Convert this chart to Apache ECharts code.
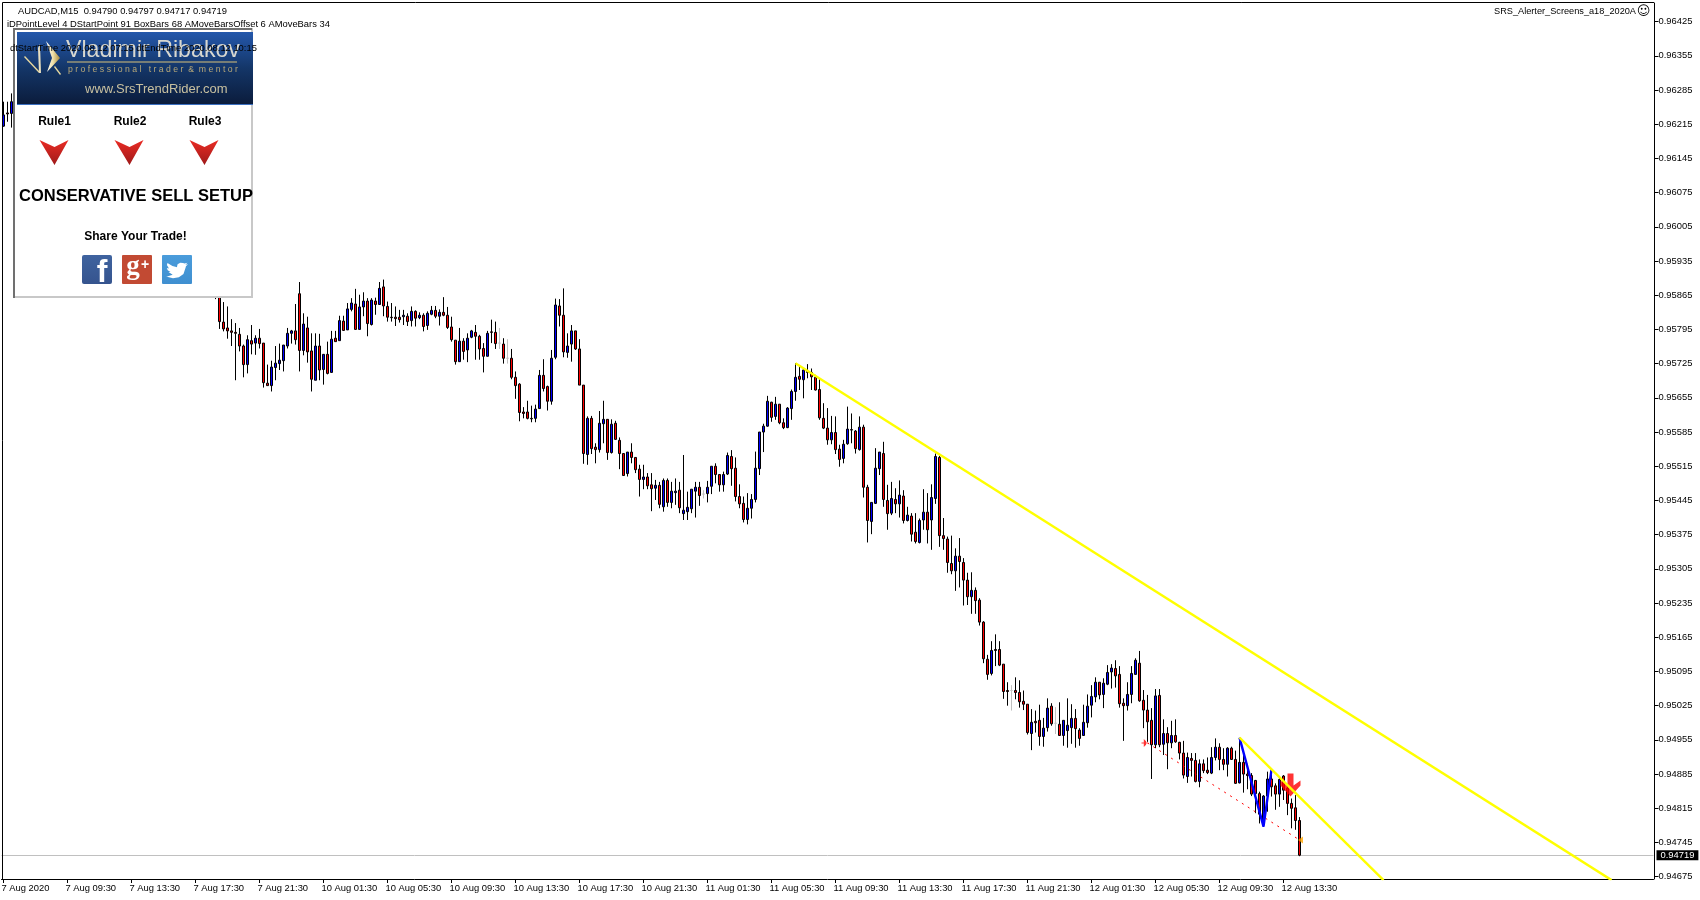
<!DOCTYPE html>
<html><head><meta charset="utf-8"><style>html,body{margin:0;padding:0;background:#fff}#c{width:1700px;height:900px}</style>
<script src="https://cdn.jsdelivr.net/npm/echarts@6/dist/echarts.min.js"></script></head><body><div id="c"></div>
<script>
// Prices in points (1 point = 0.00001). Bars 3..52 sit behind the panel and cannot be read.
const opens=[96211,96238,96237,95890,
95876,95810,95798,95792,95789,95785,95761,95723,95772,95767,
95777,95767,95685,95680,95717,95725,95731,95761,95787,95792,
95868,95752,95798,95751,95691,95761,95713,95744,95707,95777,
95772,95812,95794,95836,95847,95795,95841,95853,95805,95853,
95846,95882,95842,95820,95820,95820,95821,95822,95813,95832,
95819,95824,95803,95826,95834,95822,95830,95824,95800,95773,
95729,95771,95753,95779,95789,95781,95756,95740,95790,95789,
95767,95765,95736,95736,95697,95683,95626,95626,95613,95613,
95633,95701,95678,95648,95738,95843,95824,95748,95765,95792,
95755,95681,95539,95613,95554,95549,95602,95611,95543,95603,
95568,95541,95500,95544,95533,95509,95488,95493,95477,95470,
95476,95432,95486,95441,95461,95466,95418,95422,95428,95464,
95472,95458,95459,95474,95515,95498,95477,95499,95535,95511,
95453,95439,95406,95429,95447,95510,95585,95597,95646,95617,
95642,95604,95594,95633,95668,95699,95692,95709,95707,95697,
95672,95613,95593,95569,95584,95550,95531,95561,95590,95587,
95549,95595,95472,95402,95439,95510,95541,95445,95419,95447,
95438,95454,95404,95413,95380,95359,95405,95421,95405,95449,
95533,95373,95366,95316,95301,95331,95318,95282,95248,95261,
95241,95196,95120,95091,95140,95140,95110,95056,95056,95056,
95052,95034,95028,94968,94993,94995,94962,94980,95024,94989,
94987,94964,94974,94980,94999,94975,94964,94990,95026,95043,
95073,95048,95069,95094,95101,95089,95030,95025,95048,95089,
95112,95036,95016,94995,94945,95046,94946,94968,94949,94964,
94950,94928,94880,94917,94913,94870,94906,94893,94887,94919,
94940,94915,94905,94938,94915,94867,94909,94885,94882,94872,
94845,94786,94840,94875,94861,94844,94881,94856,94825,94816,
94790];
const closes=[96234,96236,96261,95880,
95811,95796,95792,95789,95787,95761,95723,95774,95765,95777,
95766,95686,95680,95718,95726,95732,95763,95787,95792,95774,
95752,95806,95749,95693,95761,95712,95744,95705,95775,95770,
95813,95793,95837,95849,95795,95841,95853,95807,95855,95846,
95879,95843,95820,95819,95817,95815,95824,95811,95832,95818,
95824,95801,95828,95834,95822,95830,95824,95799,95774,95729,
95771,95750,95777,95792,95781,95755,95740,95787,95789,95766,
95767,95736,95736,95697,95680,95625,95623,95613,95612,95632,
95701,95674,95648,95736,95845,95824,95749,95761,95792,95755,
95681,95541,95613,95551,95549,95603,95611,95543,95601,95570,
95541,95496,95544,95533,95508,95488,95493,95475,95469,95476,
95437,95486,95441,95464,95464,95430,95425,95431,95468,95472,
95455,95458,95472,95515,95498,95477,95498,95537,95510,95453,
95438,95406,95429,95447,95511,95585,95597,95648,95615,95642,
95604,95594,95634,95668,95697,95693,95712,95707,95698,95671,
95614,95593,95569,95584,95549,95529,95560,95591,95589,95551,
95595,95472,95404,95441,95511,95544,95447,95418,95449,95438,
95456,95404,95415,95376,95361,95404,95421,95385,95451,95535,
95373,95367,95318,95301,95331,95320,95282,95248,95261,95240,
95196,95121,95089,95138,95138,95108,95054,95054,95056,95052,
95033,95028,94970,94991,94990,94962,94979,95020,94988,94989,
94964,94995,94985,94999,94978,94958,94991,95024,95044,95073,
95047,95071,95093,95102,95086,95029,95025,95048,95091,95118,
95035,95016,94992,94945,95045,94945,94968,94949,94964,94951,
94928,94883,94919,94913,94870,94906,94892,94888,94919,94940,
94915,94905,94938,94915,94866,94909,94885,94882,94844,94845,
94803,94840,94875,94859,94844,94874,94852,94825,94815,94790,
94719];
const highs=[96261,96261,96278,95900,
95883,95851,95842,95816,95808,95798,95764,95783,95804,95783,
95796,95767,95723,95731,95761,95766,95763,95798,95794,95847,
95892,95828,95821,95787,95787,95786,95744,95770,95792,95792,
95823,95823,95849,95859,95878,95866,95871,95859,95859,95860,
95892,95897,95852,95849,95842,95835,95835,95828,95842,95834,
95830,95828,95832,95843,95843,95836,95861,95841,95821,95773,
95798,95777,95787,95794,95804,95784,95767,95792,95815,95811,
95798,95777,95775,95755,95709,95685,95636,95649,95639,95641,
95712,95734,95680,95753,95858,95857,95879,95787,95804,95792,
95775,95681,95617,95618,95562,95628,95649,95611,95611,95608,
95574,95541,95544,95562,95533,95518,95518,95501,95501,95487,
95483,95490,95490,95483,95490,95483,95538,95463,95468,95483,
95483,95466,95485,95515,95521,95498,95504,95543,95548,95533,
95478,95453,95460,95458,95545,95585,95602,95659,95647,95657,
95642,95613,95636,95672,95726,95722,95715,95724,95715,95702,
95695,95644,95634,95618,95617,95559,95569,95637,95623,95589,
95617,95600,95477,95441,95552,95544,95565,95477,95483,95470,
95486,95466,95432,95419,95419,95408,95468,95460,95478,95541,
95536,95409,95371,95373,95347,95368,95327,95297,95298,95267,
95245,95198,95129,95157,95171,95157,95110,95073,95067,95083,
95077,95056,95028,95018,95015,95027,95000,95040,95030,95022,
95032,94995,95040,95028,95018,94979,95027,95048,95067,95083,
95073,95081,95108,95110,95118,95106,95040,95073,95106,95122,
95137,95057,95047,95020,95059,95059,94997,94981,94994,94997,
94951,94953,94929,94928,94928,94915,94915,94919,94940,94958,
94948,94938,94940,94941,94933,94958,94928,94906,94887,94873,
94849,94842,94890,94897,94866,94880,94883,94865,94835,94842,
94797];
const lows=[96210,96220,96208,95857,
95796,95791,95776,95761,95691,95750,95697,95705,95744,95743,
95756,95676,95680,95668,95691,95712,95709,95756,95766,95764,
95709,95742,95727,95668,95691,95691,95682,95703,95707,95770,
95772,95792,95794,95832,95795,95795,95822,95781,95803,95825,
95845,95822,95811,95811,95802,95809,95804,95802,95801,95801,
95816,95791,95794,95824,95818,95803,95822,95796,95770,95723,
95729,95733,95728,95777,95733,95733,95707,95740,95767,95755,
95755,95725,95725,95693,95653,95607,95613,95611,95605,95605,
95633,95668,95629,95641,95734,95801,95738,95737,95729,95753,
95681,95520,95518,95540,95521,95543,95562,95528,95541,95569,
95509,95496,95494,95521,95501,95453,95468,95468,95423,95446,
95429,95422,95432,95429,95436,95419,95405,95405,95419,95410,
95434,95449,95441,95458,95480,95463,95463,95497,95475,95443,
95429,95400,95396,95408,95441,95497,95544,95596,95606,95610,
95601,95591,95593,95610,95649,95671,95654,95695,95671,95670,
95610,95591,95559,95560,95540,95514,95521,95559,95562,95541,
95547,95451,95359,95376,95438,95497,95432,95385,95415,95419,
95410,95398,95402,95361,95357,95357,95385,95357,95344,95438,
95350,95344,95297,95294,95260,95267,95230,95231,95213,95213,
95189,95112,95078,95087,95106,95106,95039,95025,95015,95038,
95021,95016,94966,94934,94970,94943,94941,94972,94984,94967,
94964,94943,94939,94947,94939,94943,94964,94980,95001,95032,
95038,95020,95067,95060,95062,95021,94953,95015,95030,95089,
95033,94979,94951,94875,94938,94940,94924,94895,94938,94949,
94915,94876,94867,94880,94868,94858,94887,94885,94885,94913,
94893,94893,94880,94914,94865,94866,94847,94854,94840,94805,
94784,94777,94808,94839,94812,94818,94832,94801,94774,94771,
94717];
const hiddenBars=50;
const slotCount=413;
const barsPerLabel=16;
const xLabels=['7 Aug 2020','7 Aug 09:30','7 Aug 13:30','7 Aug 17:30','7 Aug 21:30','10 Aug 01:30','10 Aug 05:30','10 Aug 09:30','10 Aug 13:30','10 Aug 17:30','10 Aug 21:30','11 Aug 01:30','11 Aug 05:30','11 Aug 09:30','11 Aug 13:30','11 Aug 17:30','11 Aug 21:30','12 Aug 01:30','12 Aug 05:30','12 Aug 09:30','12 Aug 13:30'];
const yTicks=[0.96425,0.96355,0.96285,0.96215,0.96145,0.96075,0.96005,0.95935,0.95865,0.95795,0.95725,0.95655,0.95585,0.95515,0.95445,0.95375,0.95305,0.95235,0.95165,0.95095,0.95025,0.94955,0.94885,0.94815,0.94745,0.94675];
const lastPrice=0.94719;
const mainTrend=[[198,0.957258],[402,0.94668]];
const shortTrend=[[309,0.949595],[345,0.94668]];
const blueZigzag=[[309,0.949595],[315,0.947774],[317,0.948948]];
const redDashed=[[286,0.949487],[324,0.947502]];
const redStart=[[286,0.949487]];
const orangeEnd=[[324,0.947502]];
const sellArrow=[[322,0.948648]];

const bars=opens.map((o,i)=>[o/1e5,closes[i]/1e5,lows[i]/1e5,highs[i]/1e5]);
bars.splice(3,0,...Array(hiddenBars).fill('-'));
const cats=Array.from({length:slotCount},(_,i)=>i%barsPerLabel===0?(xLabels[i/barsPerLabel]||''):'');
const showTick=i=>i%barsPerLabel===0&&i/barsPerLabel<xLabels.length;

const F='"Liberation Sans"',A='"Liberation Sans"';
function txt(text,x,y,font,fill,align,extra){return {type:'text',z:110,silent:true,style:Object.assign({text,x,y,font,fill,textAlign:align||'left',textVerticalAlign:'middle'},extra||{})};}
function poly(points,fill,z){return {type:'polygon',z:z||105,silent:true,shape:{points},style:{fill}};}
function arrowRed(cx){return poly([[cx-15,140],[cx,147],[cx+14,140],[cx,165]],new echarts.graphic.LinearGradient(0,0,0,1,[{offset:0,color:'#EA2B24'},{offset:1,color:'#9E1A1A'}]));}
const gold=new echarts.graphic.LinearGradient(0,0,1,0,[{offset:0,color:'#FFFFFF'},{offset:.5,color:'#EFE0A8'},{offset:1,color:'#A88A3A'}]);
const birdOutline=[[24,4.6],[21.1,5.3],[23.3,2.6],[20.2,3.8],[18.5,3],[15.5,2.6],[12.6,4.5],[12,7.4],[12,8.1],[7,6.7],[1.6,3.2],[1,5.6],[3.2,9.7],[.9,9.1],[.9,9.2],[1.9,11.8],[4.9,14],[2.7,14.1],[7.3,17.5],[1.2,19.6],[0,19.5],[7.6,21.7],[14,20.5],[19,16.5],[21.6,7.7],[21.6,7.1]];

const graphic=[
 {type:'line',z:50,silent:true,shape:{x1:2.5,y1:2.5,x2:1654,y2:2.5},style:{stroke:'#000',lineWidth:1}},
 {type:'line',z:50,silent:true,shape:{x1:2.5,y1:2.5,x2:2.5,y2:879},style:{stroke:'#000',lineWidth:1}},
 txt('AUDCAD,M15  0.94790 0.94797 0.94717 0.94719',18,11,'9.4px '+F,'#000'),
 txt('iDPointLevel 4 DStartPoint 91 BoxBars 68 AMoveBarsOffset 6 AMoveBars 34',7,24,'9.4px '+F,'#000'),
 txt('SRS_Alerter_Screens_a18_2020A',1636,11.5,'9.2px '+F,'#000','right'),
 txt('\u263A',1643.5,11.5,'13px "DejaVu Sans"','#000','center'),
 // panel
 {type:'rect',z:100,silent:true,shape:{x:14,y:29,width:238,height:268},style:{fill:'#fff',stroke:'#C8C8C8',lineWidth:2}},
 {type:'line',z:101,silent:true,shape:{x1:14,y1:29,x2:252,y2:29},style:{stroke:'#707070',lineWidth:2}},
 {type:'line',z:101,silent:true,shape:{x1:14,y1:28,x2:14,y2:298},style:{stroke:'#707070',lineWidth:2}},
 {type:'rect',z:102,silent:true,shape:{x:17,y:32,width:236,height:72},style:{fill:new echarts.graphic.LinearGradient(0,0,0,1,[{offset:0,color:'#2458AC'},{offset:.5,color:'#143668'},{offset:1,color:'#0B1C3C'}])}},
 {type:'rect',z:102,silent:true,shape:{x:17,y:104,width:236,height:1},style:{fill:'#3A6FC0'}},
 poly([[24,57],[25,56],[40,72],[39,73]],'#E8D9A0'),
 poly([[38,48],[40,44],[41,73],[39,73]],'#E8DFC0'),
 poly([[46,41],[60,58],[47,72],[52,58]],gold),
 poly([[54,67],[55,66],[61,74],[60,75]],'#E8D9A0'),
 txt('Vladimir Ribakov',66,50.5,'23.2px '+A,'#D8D8D0'),
 {type:'rect',z:103,silent:true,shape:{x:67,y:61.5,width:170,height:1},style:{fill:'#D8C078'}},
 txt('p r o f e s s i o n a l   t r a d e r  &  m e n t o r',68,70,'8.7px '+F,'#B8A878'),
 txt('www.SrsTrendRider.com',85,89,'13px '+A,'#C8C0A0'),
 txt('Rule1',54.5,121.5,'bold 12px '+A,'#000','center'),
 txt('Rule2',130,121.5,'bold 12px '+A,'#000','center'),
 txt('Rule3',205,121.5,'bold 12px '+A,'#000','center'),
 arrowRed(54.5),arrowRed(129.5),arrowRed(204.5),
 txt('CONSERVATIVE SELL SETUP',136,196.5,'bold 16.5px '+A,'#000','center'),
 txt('Share Your Trade!',135.5,236.5,'bold 12px '+A,'#000','center'),
 {type:'rect',z:103,silent:true,shape:{x:82,y:255,width:30,height:29,r:2},style:{fill:new echarts.graphic.LinearGradient(0,0,0,1,[{offset:0,color:'#3F639F'},{offset:1,color:'#35548E'}])}},
 txt('f',102,273,'bold 32px '+A,'#fff','center'),
 {type:'rect',z:103,silent:true,shape:{x:122,y:255,width:30,height:29,r:1},style:{fill:'#C24A33'}},
 txt('g',133,267,'bold 27px "Liberation Serif"','#fff','center'),
 txt('+',145,265,'bold 14px '+A,'#fff','center'),
 {type:'rect',z:103,silent:true,shape:{x:162,y:255,width:30,height:29,r:1},style:{fill:new echarts.graphic.LinearGradient(0,0,0,1,[{offset:0,color:'#4A9CDB'},{offset:1,color:'#3F8FD0'}])}},
 poly(birdOutline.map(p=>[166+p[0]*.92,260.5+p[1]*.82]),'#fff'),
 txt('dtStartTime 2020.08.12 07:15 dtEndTime 2020.08.12 10:15',10,48,'9.4px '+F,'#000'),
];

const chart=echarts.init(document.getElementById('c'),null,{renderer:'canvas'});
chart.setOption({
 animation:false,backgroundColor:'#fff',
 grid:{left:1.5,top:3,width:1652,height:876,containLabel:false,outerBoundsMode:'none'},
 xAxis:{type:'category',data:cats,boundaryGap:true,
  axisLine:{lineStyle:{color:'#000',width:1}},
  axisTick:{show:true,alignWithLabel:true,length:4,interval:i=>showTick(i),lineStyle:{color:'#000'}},
  axisLabel:{interval:i=>showTick(i),align:'left',margin:5,padding:[0,0,0,-2],color:'#000',fontFamily:'Liberation Sans',fontSize:9.4,showMinLabel:true,hideOverlap:false},
  splitLine:{show:false}},
 yAxis:{type:'value',position:'right',offset:1,min:0.946703,max:0.96463,
  axisLine:{show:true,lineStyle:{color:'#000',width:1}},
  axisTick:{show:true,length:4,customValues:yTicks,lineStyle:{color:'#000'}},
  axisLabel:{customValues:yTicks,formatter:v=>v.toFixed(5),color:'#000',fontFamily:'Liberation Sans',fontSize:9.4,margin:4,padding:[2,0,0,0]},
  splitLine:{show:false}},
 graphic,
 series:[
  {type:'candlestick',name:'AUDCAD,M15',data:bars,barWidth:2,z:3,large:false,progressive:0,
   itemStyle:{color:'#0000FF',color0:'#FF0000',borderColor:'#000',borderColor0:'#000',borderColorDoji:'#C0C0C0',borderWidth:1}},
  {type:'line',data:redDashed,symbol:'none',z:5,lineStyle:{color:'#FF0000',width:1,type:[2,5]},
   markLine:{silent:true,symbol:'none',animation:false,precision:5,z:2,lineStyle:{color:'#C0C0C0',width:1,type:'solid'},
    label:{position:'end',formatter:()=>lastPrice.toFixed(5),color:'#fff',backgroundColor:'#000',fontFamily:'Liberation Sans',fontSize:9.4,padding:[1,4,0,4],distance:3},
    data:[{yAxis:lastPrice}]}},
  {type:'scatter',data:redStart,symbol:'path://M0 3 L2 3 L2 0 L4 2 L4 3 L7 3.5 L4 4 L4 5 L2 7 L2 4 L0 4 Z',symbolSize:[8,8],symbolOffset:[-2,0],z:6,itemStyle:{color:'#FF0000'}},
  {type:'scatter',data:orangeEnd,symbol:'triangle',symbolRotate:90,symbolSize:[7,5],symbolOffset:[1,0],z:6,itemStyle:{color:'#FFA500'}},
  {type:'scatter',data:sellArrow,symbol:'path://M7 0 L13 0 L13 12 L20 7 L20 12 L10 23 L0 12 L0 7 L7 12 Z',symbolSize:[20,23],symbolOffset:[-1,1],z:6,itemStyle:{color:'#FF0000'}},
  {type:'line',data:blueZigzag,symbol:'none',z:7,lineStyle:{color:'#0000FF',width:2.4}},
  {type:'line',data:mainTrend,symbol:'none',z:8,lineStyle:{color:'#FFFF00',width:2.4}},
  {type:'line',data:shortTrend,symbol:'none',z:8,lineStyle:{color:'#FFFF00',width:2.4}}
 ]
});
</script></body></html>
